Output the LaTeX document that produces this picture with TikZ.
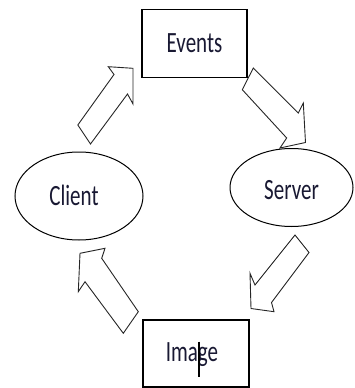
\documentclass[tikz,border=0pt]{standalone}
\usepackage{fontspec}
\setmainfont{Carlito}
\usetikzlibrary{shapes.geometric}
\definecolor{txt}{rgb}{0.1,0.1,0.2}
\newcommand\stx[1]{\scalebox{1}[1.4]{#1}}
\tikzset{
  boxnode/.style={draw=black, line width=1.2pt, rectangle, inner sep=0pt, fill=white},
  ellnode/.style={draw=black, line width=1pt, ellipse, inner sep=0pt, fill=white},
  lbl/.style={inner sep=0pt, font=\fontsize{21}{21}\selectfont, text=txt},
  blockarrow/.style={draw=black!85, line width=0.9pt, fill=white, line join=miter}
}
\begin{document}
\begin{tikzpicture}[x=1pt,y=-1pt]
\useasboundingbox (0,0) rectangle (354,388);
% block arrows
\draw[blockarrow] (133,68.3) -- (108.3,66.7) -- (114,74.5) -- (77.8,125) -- (90.5,144) -- (127.5,94) -- (133,104) -- cycle;
\draw[blockarrow] (253.3,68) -- (242.3,89.7) -- (286.7,138) -- (280,148) -- (305.5,142.5) -- (303.3,103) -- (298.3,113) -- cycle;
\draw[blockarrow] (295,235) -- (309,252.5) -- (271.5,302.5) -- (274,311.7) -- (251,308.5) -- (250,273.3) -- (255,285) -- cycle;
\draw[blockarrow] (80,253.3) -- (105,248.3) -- (101.7,258.3) -- (138.3,311.7) -- (123.3,333.3) -- (85,281.7) -- (78.3,291.7) -- cycle;
% nodes
\node[boxnode, minimum width=105pt, minimum height=68pt] (events) at (194.5,43.2) {};
\node[boxnode, minimum width=106pt, minimum height=67pt] (image) at (196,353.5) {};
\node[ellnode, minimum width=128pt, minimum height=88pt] (client) at (79,196) {};
\node[ellnode, minimum width=123pt, minimum height=78pt] (server) at (291.5,187.5) {};
% labels
\node[lbl] (eventslbl) at ([yshift=0pt]events.center) {\stx{Events}};
\node[lbl] (imagelbl) at ([xshift=-4pt,yshift=-1pt]image.center) {\stx{Image}};
\node[lbl] (clientlbl) at ([xshift=-5pt,yshift=1pt]client.center) {\stx{Client}};
\node[lbl] (serverlbl) at ([yshift=-3pt]server.center) {\stx{Server}};
% text cursor
\draw[line width=2.2pt, black] (199,341.7) -- (199,377);
\end{tikzpicture}
\end{document}
